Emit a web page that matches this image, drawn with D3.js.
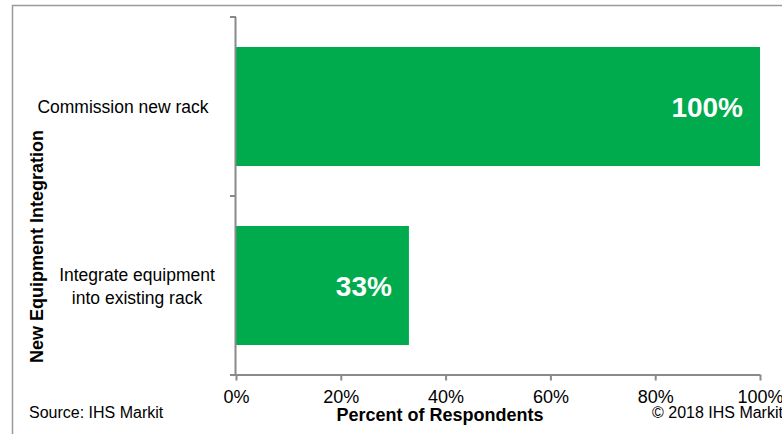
<!DOCTYPE html>
<html><head><meta charset="utf-8">
<script src="https://cdn.jsdelivr.net/npm/d3@7"></script>
<style>
html,body{margin:0;padding:0;background:#fff;overflow:hidden}
text{font-family:"Liberation Sans",Arial,sans-serif}
</style></head>
<body><svg id="c" width="782" height="434"></svg>
<script>
const categories = ["Commission new rack", "Integrate equipment\ninto existing rack"];
const values = [1.00, 0.33];
const valueLabels = ["100%", "33%"];
const xTicks = [0, 0.2, 0.4, 0.6, 0.8, 1.0];
const yTitle = "New Equipment Integration";
const xTitle = "Percent of Respondents";
const source = "Source: IHS Markit";
const copyright = "\u00A9 2018 IHS Markit";

const svg = d3.select("#c");
const green = "#00ab4e", axisCol = "#8a8a8a";

// frame
svg.append("path").attr("d","M12.5,434 V5.5 H782").attr("fill","none").attr("stroke","#9a9a9a").attr("stroke-width",1.5);

const x = d3.scaleLinear().domain([0,1]).range([236,760]);
const y = d3.scaleBand().domain(categories).range([17,375]).padding(0);
const bw = y.bandwidth();
const inset = 0.1675, frac = 0.665;

// bars
svg.selectAll("rect.bar").data(categories).join("rect")
  .attr("x", x(0)).attr("y", d=>y(d)+bw*inset)
  .attr("width", (d,i)=>x(values[i])-x(0)).attr("height", bw*frac)
  .attr("fill", green);

// value labels
svg.selectAll("text.val").data(categories).join("text")
  .attr("x", (d,i)=>x(values[i])-17).attr("y", d=>y(d)+bw/2+10)
  .attr("text-anchor","end").attr("fill","#fff")
  .attr("font-size","28px").attr("font-weight","bold")
  .text((d,i)=>valueLabels[i]);

// x axis
const xa = svg.append("g").attr("transform","translate(0,374.5)")
  .call(d3.axisBottom(x).tickValues(xTicks).tickFormat(d3.format(".0%")).tickSize(6).tickSizeOuter(0));
xa.select(".domain").attr("stroke",axisCol).attr("stroke-width",2).attr("d","M230,0.5H760");
xa.selectAll(".tick line").attr("stroke",axisCol).attr("stroke-width",2);
xa.selectAll(".tick text").attr("y",28.5).attr("dy",0).attr("font-size","18px").attr("fill","#000")
  .attr("font-family","'Liberation Sans',Arial,sans-serif");

// y axis
const ya = svg.append("g");
ya.append("line").attr("x1",x(0)-0.5).attr("x2",x(0)-0.5).attr("y1",y.range()[0]).attr("y2",y.range()[1])
  .attr("stroke",axisCol).attr("stroke-width",2);
const bounds = [y(categories[0])].concat(categories.map(c=>y(c)+bw));
ya.selectAll("line.t").data(bounds).join("line")
  .attr("x1",x(0)-6).attr("x2",x(0)).attr("y1",d=>d).attr("y2",d=>d)
  .attr("stroke",axisCol).attr("stroke-width",2);

// category labels
const labelCenters = [123, 137];
categories.forEach((c,i)=>{
  const lines = c.split("\n");
  const t = svg.append("text").attr("text-anchor","middle").attr("font-size","17.5px").attr("fill","#000");
  const lh = 23;
  const y0 = y(c)+bw/2 - (lines.length-1)*lh/2 + 6.5;
  lines.forEach((l,j)=>t.append("tspan").attr("x",labelCenters[i]).attr("y",y0+j*lh).text(l));
});

// titles
svg.append("text").attr("transform","translate(43,246.5) rotate(-90)").attr("text-anchor","middle")
  .attr("font-size","18px").attr("font-weight","bold").text(yTitle);
svg.append("text").attr("x",440).attr("y",421).attr("text-anchor","middle")
  .attr("font-size","18px").attr("font-weight","bold").text(xTitle);
svg.append("text").attr("x",29).attr("y",417.5).attr("font-size","16px").text(source);
svg.append("text").attr("x",652).attr("y",417.5).attr("font-size","16px").text(copyright);
</script></body></html>
